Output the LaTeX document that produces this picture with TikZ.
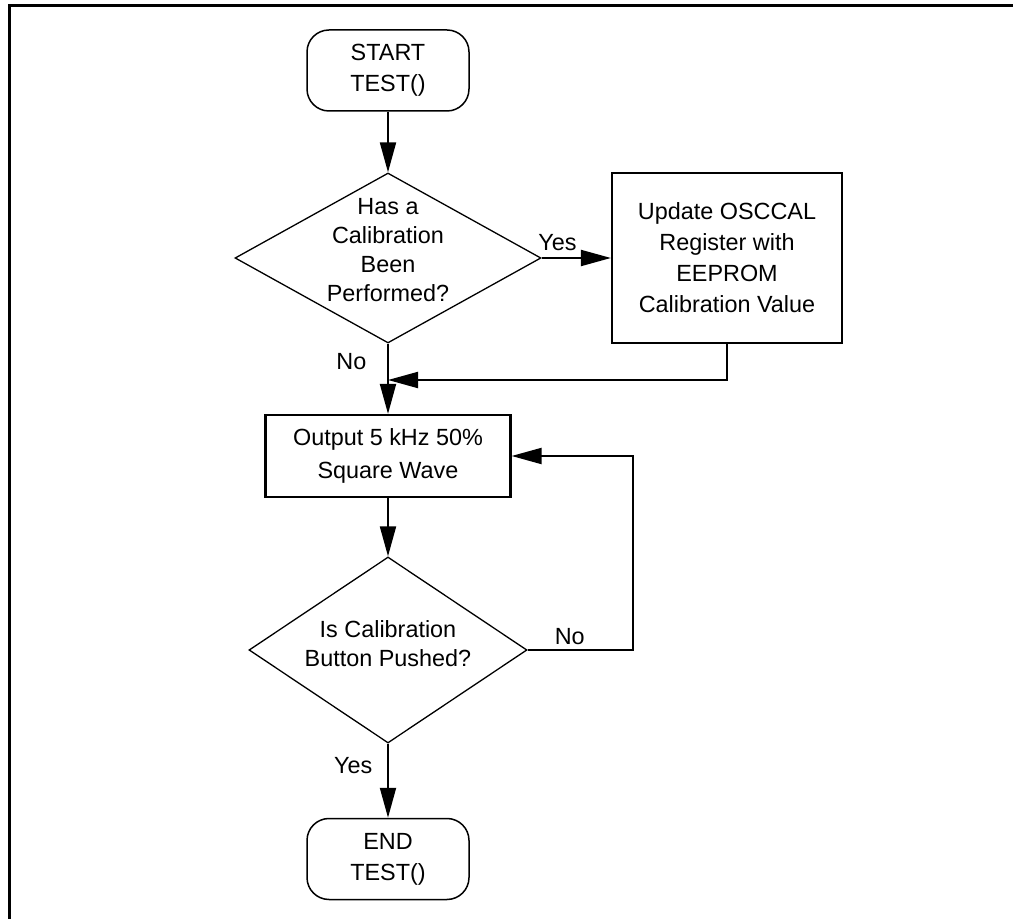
\documentclass[tikz,border=0pt]{standalone}
\usepackage{fontspec}
\setmainfont{Liberation Sans}
\usetikzlibrary{shapes.geometric, arrows.meta, positioning, calc}

\begin{document}
\begin{tikzpicture}[x=0.5pt, y=-0.5pt,
        every node/.style={font=\fontsize{11.7}{15.5}\selectfont},
        term/.style={draw, line width=0.75pt, rounded corners=11pt, minimum width=81pt, minimum height=40.5pt, align=center, inner sep=0pt},
        procbox/.style={draw, line width=1.1pt, align=center, inner sep=0pt},
        decision/.style={draw, diamond, line width=0.65pt, inner sep=0pt},
        dectext/.style={align=center, font=\fontsize{11.7}{14.6}\selectfont},
        flow/.style={line width=1pt, -{Triangle[length=15pt, width=8pt]}}]
        \useasboundingbox (0,0) rectangle (1013,919);
        \draw[line width=1.3pt] (9.5,919) -- (9.5,5.3) -- (1013,5.3);

        \node[term] (start) at (388,70.5) {START\\TEST()};
        \node[decision, minimum width=153pt, minimum height=85pt,
            label={[dectext, yshift=4pt]center:Has a\\Calibration\\Been\\Performed?}] (dec1) at (388,258) {};
        \node[procbox, minimum width=115pt, minimum height=85pt] (update) at (727,258) {Update OSCCAL\\Register with\\EEPROM\\Calibration Value};
        \node[procbox, minimum width=122.5pt, minimum height=41pt, font=\fontsize{11.7}{16.3}\selectfont] (output) at (388,456) {Output 5 kHz 50\%\\Square Wave};
        \node[decision, minimum width=139pt, minimum height=93pt,
            label={[dectext, yshift=3pt]center:Is Calibration\\Button Pushed?}] (dec2) at (388,650) {};
        \node[term] (stop) at (388,859) {END\\TEST()};
        \coordinate (join) at (388,380);
        \coordinate (loop) at (633,456);

        \draw[flow] (start) -- (dec1);
        \draw[flow] (dec1.east) -- node[above, pos=0.23]{Yes} (update.west);
        \draw[flow] (update.south) |- (join);
        \draw[flow] (dec1.south) -- node[left=7pt, pos=0.25]{No} (output.north);
        \draw[flow] (output) -- (dec2);
        \draw[flow] (dec2.east) -| node[above, inner sep=2pt, pos=0.2]{No} (loop) -- (output.east);
        \draw[flow] (dec2.south) -- node[left=4pt, pos=0.29]{Yes} (stop.north);
    \end{tikzpicture}
\end{document}
